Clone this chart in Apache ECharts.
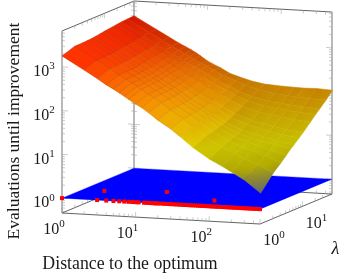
<!DOCTYPE html>
<html><head><meta charset="utf-8"><style>html,body{margin:0;padding:0;background:#fff}#c{width:345px;height:279px}</style>
<script src="https://cdn.jsdelivr.net/npm/echarts@6/dist/echarts.min.js"></script></head><body><div id="c"></div>
<script>
const distances=[1,2,3,4,5,6,7,8,10,12,15,20,30,40,60,100,150,200,300,500];
const lambdas=[1,2,3,4,5,6,8,10,15,20,25,35,50];
const evalsL1=[1780,900,600,440,360,300,255,220,175,148,115,80,52,36,21,12,8.5,6.5,4.4,2.3];
const evalsL2=[2240,1130,755,555,450,378,321,277,221,187,146,102,67,47,28,17,13,10,7.7,5.1];
const evalsL3=[2250,1140,760,560,458,382,326,282,225,191,149,105,70,50,31,20,15,13,10,7.3];
const evalsL4=[2285,1160,775,570,468,390,333,288,230,196,154,109,73,53,34,22,18,15,12,9.6];
const evalsL5=[2320,1180,790,580,477,399,340,295,236,201,158,113,77,56,36,24,20,17,15,12];
const evalsL6=[2380,1210,810,596,490,410,350,304,244,208,164,117,80,59,39,27,22,20,17,14];
const evalsL8=[2470,1260,843,622,512,429,367,319,256,219,174,125,87,65,44,32,27,24,21,18];
const evalsL10=[2570,1306,877,648,534,448,384,334,269,231,183,133,93,70,49,36,31,28,25,22];
const evalsL15=[2700,1380,930,690,570,480,412,360,292,252,202,150,108,84,61,48,43,40,36,33];
const evalsL20=[2810,1444,976,726,601,508,438,383,312,271,219,165,121,96,73,59,53,50,47,44];
const evalsL25=[2900,1490,1010,754,626,530,458,402,330,287,234,178,133,107,84,69,64,60,57,54];
const evalsL35=[2950,1560,1060,796,664,565,490,433,358,314,260,202,156,129,105,90,84,80,77,74];
const evalsL50=[3020,1600,1100,840,700,600,520,450,350,300,255,195,158,138,122,116,113,111,113,108];
const evalRows=[evalsL1,evalsL2,evalsL3,evalsL4,evalsL5,evalsL6,evalsL8,evalsL10,evalsL15,evalsL20,evalsL25,evalsL35,evalsL50];
// optimum markers on the z = 1 plane
const optDistancesAtL1=[1,3,4,5,6,7,8,9,10,11,13,14,15,16,17,18,19,20,22,24,26,28,30,33,36,39,42,45,48,52,56,60,65,70,75,80,86,92,100,107,115,123,132,142,152,163,175,188,201,216,232,249,267,286,307,330,354,380,408,438,470,490];
const optExtraDistances=[2,12,79];
const optExtraLambdas=[3,4,2];
const planeDistances=[1,490];
const planeLambdas=[1,50];
const planeValue=1;
const xDecades=[1,10,100];
const lambdaDecades=[1,10];
const zDecades=[1,10,100,1000];
const minorSteps=[2,3,4,5,6,7,8,9];
const xLabels=['{a|10}{b|0}','{a|10}{b|1}','{a|10}{b|2}'];
const lambdaLabels=['{a|10}{b|0}','{a|10}{b|1}'];
const zLabels=['{a|10}{b|0}','{a|10}{b|1}','{a|10}{b|2}','{a|10}{b|3}'];

const XR=[1,490],LR=[1,50],ZLOG=[-0.34,3.82];
const O=[62,213],UV=[198,11],VV=[72,-30],ZH=182;
const lg=Math.log10;
function P(api,x,l,z){
  const u=lg(x)/lg(XR[1]),v=lg(l)/lg(LR[1]),w=(lg(z)-ZLOG[0])/(ZLOG[1]-ZLOG[0]);
  return api.coord([O[0]+UV[0]*u+VV[0]*v,O[1]+UV[1]*u+VV[1]*v-ZH*w]);
}
const stops=[[0.35,130,130,155],[0.55,160,158,90],[0.8,225,215,0],[1.2,255,245,0],[1.6,255,210,0],[2,255,170,0],[2.6,255,110,0],[3,255,62,0],[3.3,255,42,0],[3.5,255,30,0]];
function cmap(t){
  if(t<=stops[0][0])return stops[0].slice(1);
  for(let i=1;i<stops.length;i++){if(t<=stops[i][0]){const a=stops[i-1],b=stops[i],f=(t-a[0])/(b[0]-a[0]);return [1,2,3].map(k=>a[k]+(b[k]-a[k])*f);}}
  return stops[stops.length-1].slice(1);
}
const css=(c,f)=>'rgb('+c.map(v=>Math.round(v*f)).join(',')+')';

const cells=[];
for(let j=lambdas.length-2;j>=0;j--)for(let i=0;i<distances.length-1;i++)cells.push([i,j]);
const zMin=Math.pow(10,ZLOG[0]),zMax=Math.pow(10,ZLOG[1]);

const X1=XR[1],L1=LR[1];
const darkEdges=[[1,1,zMin,X1,1,zMin],[X1,1,zMin,X1,L1,zMin],[1,1,zMin,1,L1,zMin],[1,L1,zMin,X1,L1,zMin],[1,1,zMax,1,L1,zMax],[1,L1,zMax,X1,L1,zMax]];
const poles=[[1,1,zMin,1,1,zMax],[1,L1,zMin,1,L1,zMax],[X1,L1,zMin,X1,L1,zMax]];
const ticks=[];
function expand(dec,max){const r=[];dec.forEach(d=>{r.push([d,1]);minorSteps.forEach(m=>{if(d*m<=max)r.push([d*m,0]);});});return r;}
expand(xDecades,X1).forEach(([t,M])=>{const n=M?5:3;ticks.push([t,1,zMin,0,-n]);ticks.push([t,L1,zMax,0,n]);ticks.push([t,L1,zMin,0,-n]);});
expand(lambdaDecades,L1).forEach(([t,M])=>{const n=M?5:3;ticks.push([X1,t,zMin,0,-n]);ticks.push([1,t,zMax,0,n]);ticks.push([1,t,zMin,0,-n]);});
const zt=[];zDecades.forEach(d=>{zt.push([d,1]);minorSteps.forEach(m=>zt.push([d*m,0]));});
[0.5,0.6,0.7,0.8,0.9].forEach(t=>zt.push([t,0]));
zt.filter(a=>a[0]<zMax).forEach(([t,M])=>{const n=M?6:3;ticks.push([1,1,t,n,0.4]);ticks.push([X1,L1,t,-n,-0.4]);ticks.push([1,L1,t,n,0.4]);ticks.push([1,L1,t,-n,-0.4]);});

const lineSeries=(data,color,width,z)=>({type:'custom',coordinateSystem:'cartesian2d',silent:true,clip:false,z:z,data:data.map((d,i)=>[i]),encode:{x:0,y:0},
  renderItem(p,api){const d=data[p.dataIndex];const a=P(api,d[0],d[1],d[2]),b=P(api,d[3],d[4],d[5]);
    return {type:'line',shape:{x1:a[0],y1:a[1],x2:b[0],y2:b[1]},style:{stroke:color,lineWidth:width,fill:null}};}});
const tickSeries=(z)=>({type:'custom',coordinateSystem:'cartesian2d',silent:true,clip:false,z:z,data:ticks.map((d,i)=>[i]),encode:{x:0,y:0},
  renderItem(p,api){const d=ticks[p.dataIndex];const a=P(api,d[0],d[1],d[2]);
    return {type:'line',shape:{x1:a[0],y1:a[1],x2:a[0]+d[3],y2:a[1]+d[4]},style:{stroke:'#a8a8a8',lineWidth:0.6,fill:null}};}});
const rich={a:{fontFamily:'Liberation Serif',fontSize:16,lineHeight:19,verticalAlign:'bottom',fill:'#1a1a1a'},b:{fontFamily:'Liberation Serif',fontSize:11,lineHeight:19,verticalAlign:'top',fill:'#1a1a1a'}};
const tickLabels=[];
xDecades.forEach((t,i)=>tickLabels.push([t,1,zMin,xLabels[i],-8,15]));
lambdaDecades.forEach((t,i)=>tickLabels.push([X1,t,zMin,lambdaLabels[i],14,15.5]));
zDecades.forEach((t,i)=>tickLabels.push([1,1,t,zLabels[i],-18,3.5]));

const option={animation:false,backgroundColor:'#fff',
 grid:{left:0,right:0,top:0,bottom:0},
 xAxis:{type:'value',min:0,max:345,show:false},
 yAxis:{type:'value',min:0,max:279,inverse:true,show:false},
 series:[
  lineSeries(darkEdges,'#3a3a3a',0.8,1),
  lineSeries(poles,'#a8a8a8',1.6,2),
  tickSeries(3),
  {type:'custom',coordinateSystem:'cartesian2d',silent:true,clip:false,z:4,data:[[0]],encode:{x:0,y:0},
   renderItem(p,api){const a=planeDistances,b=planeLambdas,z=planeValue;
    return {type:'polygon',shape:{points:[P(api,a[0],b[0],z),P(api,a[1],b[0],z),P(api,a[1],b[1],z),P(api,a[0],b[1],z)]},style:{fill:'#0000ff',stroke:'#0000ff',lineWidth:0.3}};}},
  {type:'custom',coordinateSystem:'cartesian2d',silent:true,clip:false,z:5,data:optDistancesAtL1.map(x=>[x,1]).concat(optExtraDistances.map((x,i)=>[x,optExtraLambdas[i]])),encode:{x:0,y:1},
   renderItem(p,api){const q=P(api,api.value(0),api.value(1),planeValue);const s=4;
    return {type:'rect',shape:{x:q[0]-s/2,y:q[1]-s/2,width:s,height:s},style:{fill:'#ff0000'}};}},
  {type:'custom',coordinateSystem:'cartesian2d',silent:true,clip:false,z:6,data:cells,encode:{x:0,y:1},
   renderItem(p,api){const c=cells[p.dataIndex],i=c[0],j=c[1];
    const x0=distances[i],x1=distances[i+1],l0=lambdas[j],l1=lambdas[j+1];
    const v=[evalRows[j][i],evalRows[j][i+1],evalRows[j+1][i+1],evalRows[j+1][i]];
    const t=(lg(v[0])+lg(v[1])+lg(v[2])+lg(v[3]))/4;
    const dens=Math.sqrt(x0*x1)/32+Math.sqrt(l0*l1)/18;
    const cov=Math.min(1,dens/3);
    const f=1-0.22*cov;
    const pts=[P(api,x0,l0,v[0]),P(api,x1,l0,v[1]),P(api,x1,l1,v[2]),P(api,x0,l1,v[3])];
    let fill=css(cmap(t),f),stroke=css(cmap(t),f*(1-0.2*(1-cov)-0.02));
    if(cov>=0.5){
      const lo=v.indexOf(Math.min(...v)),hi=v.indexOf(Math.max(...v));
      const cl=lg(v[lo]),ch=lg(v[hi]);
      fill={type:'linear',global:true,x:pts[lo][0],y:pts[lo][1],x2:pts[hi][0],y2:pts[hi][1],
        colorStops:[{offset:0,color:css(cmap(cl),f)},{offset:0.5,color:css(cmap((cl+ch)/2),f)},{offset:1,color:css(cmap(ch),f)}]};
      stroke=fill;
    }
    return {type:'polygon',shape:{points:pts},style:{fill:fill,stroke:stroke,lineWidth:0.5}};}},
  {type:'custom',coordinateSystem:'cartesian2d',silent:true,clip:false,z:7,data:tickLabels.map((d,i)=>[i]),encode:{x:0,y:0},
   renderItem(p,api){const d=tickLabels[p.dataIndex];const a=P(api,d[0],d[1],d[2]);
    return {type:'text',style:{x:a[0]+d[4],y:a[1]+d[5],text:d[3],rich:rich,align:'center',verticalAlign:'middle'}};}}
 ],
 graphic:[
  {type:'text',z:10,x:14,y:131,rotation:Math.PI/2,style:{text:'Evaluations until improvement',fontFamily:'Liberation Serif',fontSize:17.5,fill:'#1a1a1a',align:'center',verticalAlign:'middle'}},
  {type:'text',z:10,x:130,y:264,style:{text:'Distance to the optimum',fontFamily:'Liberation Serif',fontSize:17.8,fill:'#1a1a1a',align:'center',verticalAlign:'middle'}},
  {type:'text',z:10,x:335.5,y:249,style:{text:'λ',fontFamily:'Liberation Serif',fontStyle:'italic',fontSize:18,fill:'#1a1a1a',align:'center',verticalAlign:'middle'}}
 ]};
echarts.init(document.getElementById('c'),null,{renderer:'canvas'}).setOption(option);
</script></body></html>
